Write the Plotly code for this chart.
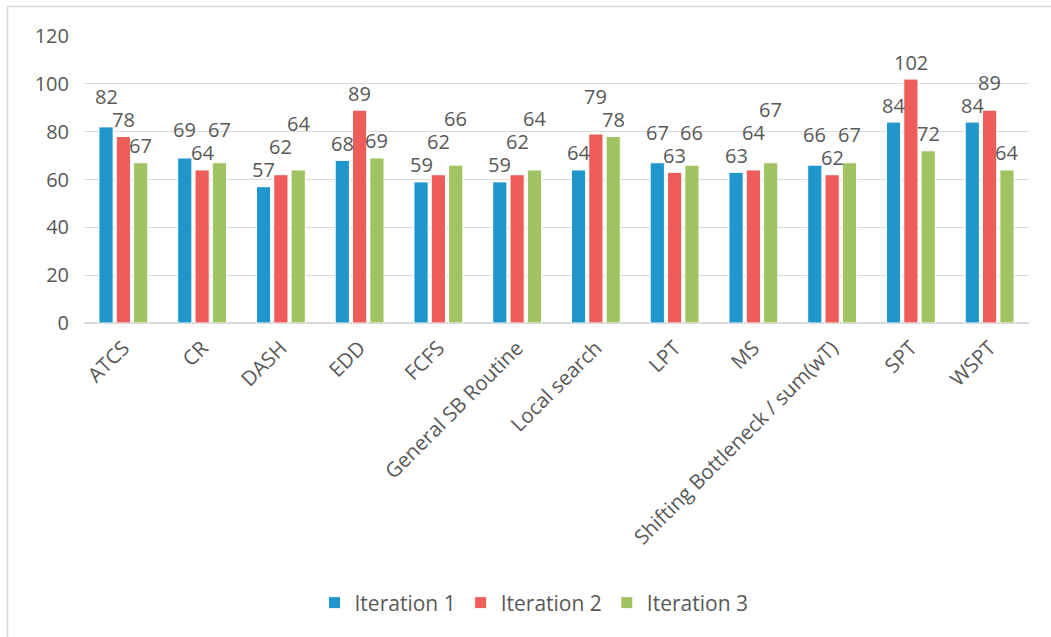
import plotly.graph_objects as go

categories = ["ATCS", "CR", "DASH", "EDD", "FCFS", "General SB Routine",
              "Local search", "LPT", "MS", "Shifting Bottleneck / sum(wT)",
              "SPT", "WSPT"]
iteration1 = [82, 69, 57, 68, 59, 59, 64, 67, 63, 66, 84, 84]
iteration2 = [78, 64, 62, 89, 62, 62, 79, 63, 64, 62, 102, 89]
iteration3 = [67, 67, 64, 69, 66, 64, 78, 66, 67, 67, 72, 64]
series_names = ["Iteration 1", "Iteration 2", "Iteration 3"]
colors = ["#1F97CC", "#EE5D5A", "#A0C462"]
y_ticks = [0, 20, 40, 60, 80, 100, 120]

W, H = 1051, 637
ML, MR, MT, MB = 84, 22, 36, 314
pw, ph = W - ML - MR, H - MT - MB
Y_MAX = 120
BARGAP, BARGROUPGAP = 0.34, 0.18

FONT = "Open Sans"
TXT = "#595959"

all_series = [iteration1, iteration2, iteration3]

fig = go.Figure()
for name, vals, col in zip(series_names, all_series, colors):
    fig.add_trace(go.Bar(
        name=name, x=categories, y=vals,
        marker=dict(color=col, line=dict(color="white", width=1)),
    ))

# Data labels: placed above each bar, nudged up to avoid colliding with
# the neighbouring label (like the spreadsheet's label placement).
px_per_unit = ph / Y_MAX
cat_w = pw / len(categories)
slot = cat_w * (1 - BARGAP) / len(all_series)
BASE = 17      # px from bar top to label centre
LBL_H = 23     # vertical space a label needs
annotations = []
for ci, cat in enumerate(categories):
    vals = [s[ci] for s in all_series]
    order = sorted(range(len(vals)), key=lambda k: vals[k])
    placed = {}
    for k in order:
        lift = BASE
        changed = True
        while changed:
            changed = False
            for j, lj in placed.items():
                if abs(j - k) == 1:
                    yk = vals[k] * px_per_unit + lift
                    yj = vals[j] * px_per_unit + lj
                    if abs(yk - yj) < LBL_H:
                        lift = yj + LBL_H - vals[k] * px_per_unit
                        changed = True
        placed[k] = lift
    for k in range(len(vals)):
        annotations.append(dict(
            x=cat, y=vals[k], xref="x", yref="y",
            xshift=(k - (len(vals) - 1) / 2) * slot, yshift=placed[k],
            text=str(vals[k]), showarrow=False,
            xanchor="center", yanchor="middle",
            font=dict(family=FONT, size=20, color=TXT),
        ))

def px_x(p):
    return (p - ML) / pw

def px_y(p):
    return (H - MB - p) / ph

shapes = [
    dict(type="line", xref="paper", yref="paper",
         x0=px_x(7.5), x1=px_x(W + 5), y0=px_y(6.5), y1=px_y(6.5),
         line=dict(color="#D9D9D9", width=1.5)),
    dict(type="line", xref="paper", yref="paper",
         x0=px_x(7.5), x1=px_x(7.5), y0=px_y(6.5), y1=px_y(H + 5),
         line=dict(color="#D9D9D9", width=1.5)),
]

fig.update_layout(
    width=W, height=H,
    margin=dict(l=ML, r=MR, t=MT, b=MB, autoexpand=False),
    paper_bgcolor="white", plot_bgcolor="white",
    barmode="group", bargap=BARGAP, bargroupgap=BARGROUPGAP,
    font=dict(family=FONT, size=20, color=TXT),
    showlegend=True,
    legend=dict(orientation="h", x=px_x(534), y=px_y(603),
                xanchor="center", yanchor="middle",
                font=dict(family=FONT, size=21, color=TXT),
                traceorder="normal"),
    xaxis=dict(tickangle=-45, showgrid=False, showline=False, zeroline=False,
               ticks="", ticklabelstandoff=8,
               tickfont=dict(family=FONT, size=20.5, color=TXT)),
    yaxis=dict(range=[0, Y_MAX], tickvals=y_ticks, showgrid=True,
               gridcolor="#D9D9D9", gridwidth=1, zeroline=True,
               zerolinecolor="#D9D9D9", zerolinewidth=1.5, showline=False,
               ticks="", ticklabelstandoff=14,
               tickfont=dict(family=FONT, size=20, color=TXT)),
    shapes=shapes,
    annotations=annotations,
)

fig.write_html("out.html")
